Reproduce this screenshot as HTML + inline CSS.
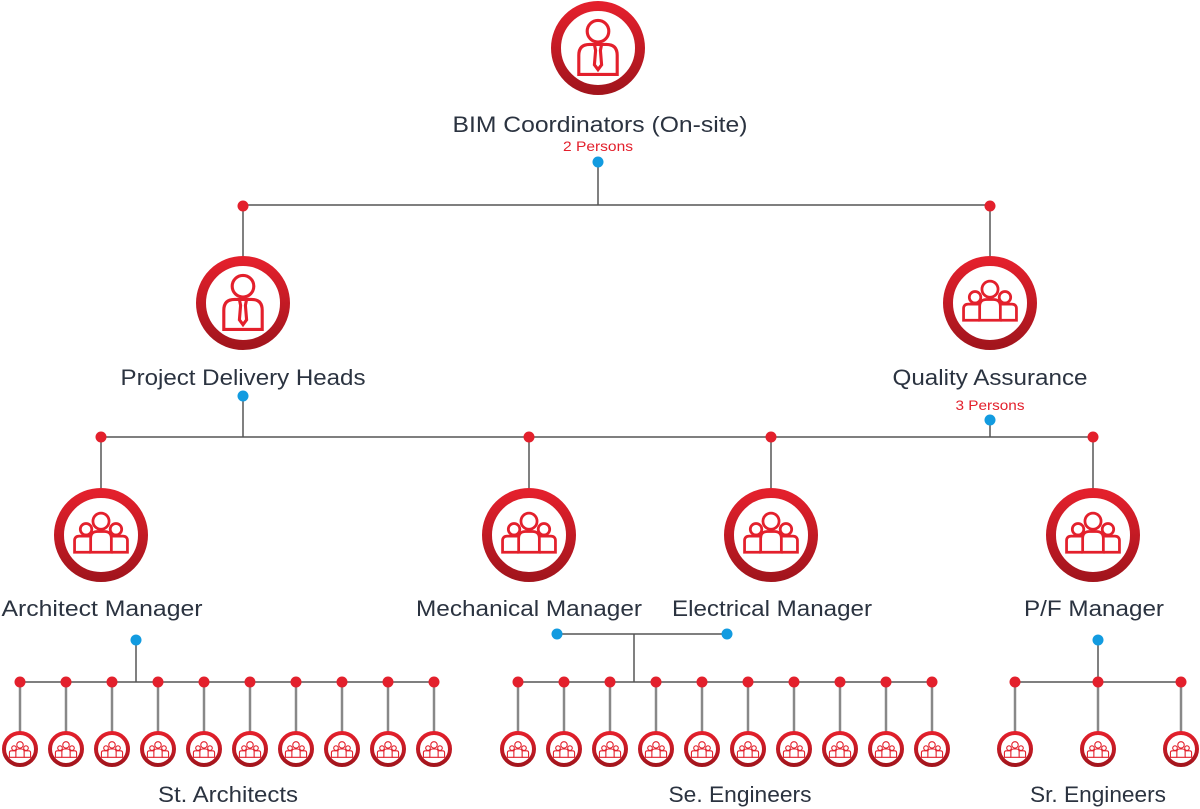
<!DOCTYPE html>
<html><head><meta charset="utf-8"><style>
html,body{margin:0;padding:0;background:#fff;}
svg{display:block}
text{font-family:"Liberation Sans",sans-serif;fill:#2b3340;text-anchor:middle}
.p{fill:#e3202c;font-size:14px}
</style></head><body>
<svg width="1200" height="809" viewBox="0 0 1200 809" xmlns="http://www.w3.org/2000/svg">
<defs>
<linearGradient id="g" x1="0" y1="0" x2="0" y2="1">
<stop offset="0" stop-color="#e3202c"/><stop offset="1" stop-color="#a3151d"/>
</linearGradient>
<g id="person" fill="none" stroke="#e3202c" stroke-width="2.6" transform="scale(1.2)">
<circle cx="0" cy="-14" r="9"/>
<path d="M-16 22 V6 Q-16 -3 -7 -3 H7 Q16 -3 16 6 V22 Z"/>
<path d="M-3 -3 L-2 2 L-3 14 L0 18 L3 14 L2 2 L3 -3"/>
</g>
<g id="group" fill="none" stroke="#e3202c" stroke-width="2.4">
<circle cx="0" cy="-12" r="7"/>
<circle cx="-13" cy="-5" r="5"/>
<circle cx="13" cy="-5" r="5"/>
<path d="M-9 15 V3 Q-9 -3 -3 -3 H3 Q9 -3 9 3 V15 Z"/>
<path d="M-9 15 H-23 V5 Q-23 1 -19 1 H-9"/>
<path d="M9 15 H23 V5 Q23 1 19 1 H9"/>
</g>
<g id="bigP"><circle r="42" fill="none" stroke="url(#g)" stroke-width="10"/><use href="#person"/></g>
<g id="bigG"><circle r="42" fill="none" stroke="url(#g)" stroke-width="10"/><use href="#group" transform="scale(1.15)"/></g>
<g id="sm"><circle r="16" fill="#fff" stroke="url(#g)" stroke-width="4"/><use href="#group" transform="scale(0.46) translate(0,3)"/></g>
</defs>

<g stroke="#555" stroke-width="1.5" fill="none">
<line x1="598" y1="162" x2="598" y2="205"/>
<line x1="243" y1="205" x2="990" y2="205"/>
<line x1="243" y1="206" x2="243" y2="256"/>
<line x1="990" y1="206" x2="990" y2="256"/>
<line x1="243" y1="396" x2="243" y2="437"/>
<line x1="990" y1="420" x2="990" y2="437"/>
<line x1="101" y1="437" x2="1093" y2="437"/>
<line x1="101" y1="437" x2="101" y2="488"/>
<line x1="529" y1="437" x2="529" y2="488"/>
<line x1="771" y1="437" x2="771" y2="488"/>
<line x1="1093" y1="437" x2="1093" y2="488"/>
<line x1="136" y1="640" x2="136" y2="682"/>
<line x1="20" y1="682" x2="434" y2="682"/>
<line x1="557" y1="634" x2="727" y2="634"/>
<line x1="634" y1="634" x2="634" y2="682"/>
<line x1="518" y1="682" x2="932" y2="682"/>
<line x1="1098" y1="640" x2="1098" y2="682"/>
<line x1="1015" y1="682" x2="1181" y2="682"/>
</g>
<g stroke="#888" stroke-width="2.5">
<line x1="20" y1="682" x2="20" y2="733"/><line x1="66" y1="682" x2="66" y2="733"/><line x1="112" y1="682" x2="112" y2="733"/><line x1="158" y1="682" x2="158" y2="733"/><line x1="204" y1="682" x2="204" y2="733"/><line x1="250" y1="682" x2="250" y2="733"/><line x1="296" y1="682" x2="296" y2="733"/><line x1="342" y1="682" x2="342" y2="733"/><line x1="388" y1="682" x2="388" y2="733"/><line x1="434" y1="682" x2="434" y2="733"/>
<line x1="518" y1="682" x2="518" y2="733"/><line x1="564" y1="682" x2="564" y2="733"/><line x1="610" y1="682" x2="610" y2="733"/><line x1="656" y1="682" x2="656" y2="733"/><line x1="702" y1="682" x2="702" y2="733"/><line x1="748" y1="682" x2="748" y2="733"/><line x1="794" y1="682" x2="794" y2="733"/><line x1="840" y1="682" x2="840" y2="733"/><line x1="886" y1="682" x2="886" y2="733"/><line x1="932" y1="682" x2="932" y2="733"/>
<line x1="1015" y1="682" x2="1015" y2="733"/><line x1="1098" y1="682" x2="1098" y2="733"/><line x1="1181" y1="682" x2="1181" y2="733"/>
</g>

<g fill="#e3202c">
<circle cx="243" cy="206" r="5.5"/><circle cx="990" cy="206" r="5.5"/>
<circle cx="101" cy="437" r="5.5"/><circle cx="529" cy="437" r="5.5"/><circle cx="771" cy="437" r="5.5"/><circle cx="1093" cy="437" r="5.5"/>
<circle cx="20" cy="682" r="5.5"/><circle cx="66" cy="682" r="5.5"/><circle cx="112" cy="682" r="5.5"/><circle cx="158" cy="682" r="5.5"/><circle cx="204" cy="682" r="5.5"/><circle cx="250" cy="682" r="5.5"/><circle cx="296" cy="682" r="5.5"/><circle cx="342" cy="682" r="5.5"/><circle cx="388" cy="682" r="5.5"/><circle cx="434" cy="682" r="5.5"/>
<circle cx="518" cy="682" r="5.5"/><circle cx="564" cy="682" r="5.5"/><circle cx="610" cy="682" r="5.5"/><circle cx="656" cy="682" r="5.5"/><circle cx="702" cy="682" r="5.5"/><circle cx="748" cy="682" r="5.5"/><circle cx="794" cy="682" r="5.5"/><circle cx="840" cy="682" r="5.5"/><circle cx="886" cy="682" r="5.5"/><circle cx="932" cy="682" r="5.5"/>
<circle cx="1015" cy="682" r="5.5"/><circle cx="1098" cy="682" r="5.5"/><circle cx="1181" cy="682" r="5.5"/>
</g>
<g fill="#129be0">
<circle cx="598" cy="162" r="5.5"/><circle cx="243" cy="396" r="5.5"/><circle cx="990" cy="420" r="5.5"/>
<circle cx="136" cy="640" r="5.5"/><circle cx="557" cy="634" r="5.5"/><circle cx="727" cy="634" r="5.5"/><circle cx="1098" cy="640" r="5.5"/>
</g>

<use href="#bigP" x="598" y="48"/>
<use href="#bigP" x="243" y="303"/>
<use href="#bigG" x="990" y="303"/>
<use href="#bigG" x="101" y="535"/>
<use href="#bigG" x="529" y="535"/>
<use href="#bigG" x="771" y="535"/>
<use href="#bigG" x="1093" y="535"/>

<use href="#sm" x="20" y="749"/><use href="#sm" x="66" y="749"/><use href="#sm" x="112" y="749"/><use href="#sm" x="158" y="749"/><use href="#sm" x="204" y="749"/><use href="#sm" x="250" y="749"/><use href="#sm" x="296" y="749"/><use href="#sm" x="342" y="749"/><use href="#sm" x="388" y="749"/><use href="#sm" x="434" y="749"/>
<use href="#sm" x="518" y="749"/><use href="#sm" x="564" y="749"/><use href="#sm" x="610" y="749"/><use href="#sm" x="656" y="749"/><use href="#sm" x="702" y="749"/><use href="#sm" x="748" y="749"/><use href="#sm" x="794" y="749"/><use href="#sm" x="840" y="749"/><use href="#sm" x="886" y="749"/><use href="#sm" x="932" y="749"/>
<use href="#sm" x="1015" y="749"/><use href="#sm" x="1098" y="749"/><use href="#sm" x="1181" y="749"/>

<g font-size="22" lengthAdjust="spacingAndGlyphs">
<text x="600" y="132" textLength="295" lengthAdjust="spacingAndGlyphs">BIM Coordinators (On-site)</text>
<text x="243" y="385" textLength="245" lengthAdjust="spacingAndGlyphs">Project Delivery Heads</text>
<text x="990" y="385" textLength="195" lengthAdjust="spacingAndGlyphs">Quality Assurance</text>
<text x="102" y="616" textLength="201" lengthAdjust="spacingAndGlyphs">Architect Manager</text>
<text x="529" y="616" textLength="226" lengthAdjust="spacingAndGlyphs">Mechanical Manager</text>
<text x="772" y="616" textLength="200" lengthAdjust="spacingAndGlyphs">Electrical Manager</text>
<text x="1094" y="616" textLength="140" lengthAdjust="spacingAndGlyphs">P/F Manager</text>
<text x="228" y="802" textLength="140" lengthAdjust="spacingAndGlyphs">St. Architects</text>
<text x="740" y="802" textLength="143" lengthAdjust="spacingAndGlyphs">Se. Engineers</text>
<text x="1098" y="802" textLength="136" lengthAdjust="spacingAndGlyphs">Sr. Engineers</text>
</g>
<text class="p" x="598" y="151" textLength="70" lengthAdjust="spacingAndGlyphs">2 Persons</text>
<text class="p" x="990" y="410" textLength="69" lengthAdjust="spacingAndGlyphs">3 Persons</text>
</svg>
</body></html>
